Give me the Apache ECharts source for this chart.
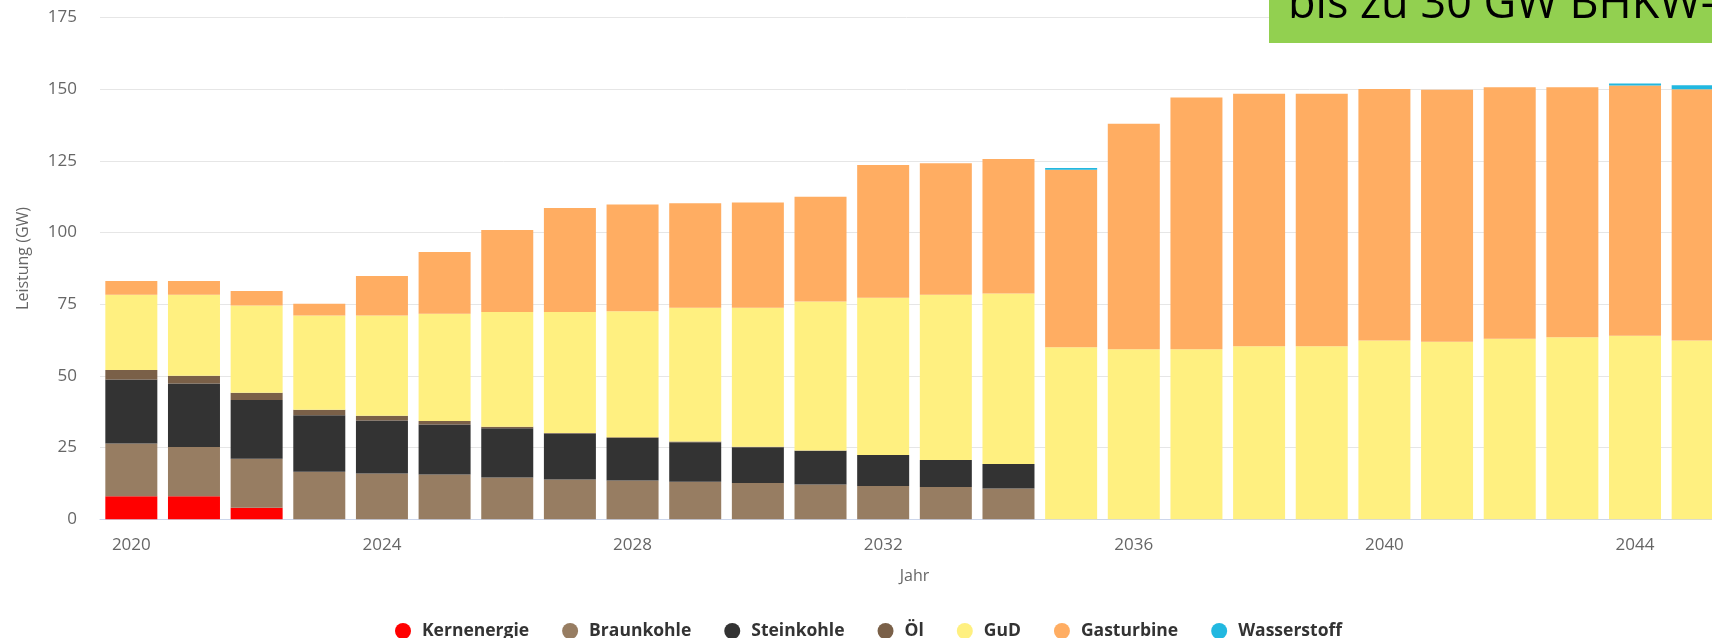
<!DOCTYPE html>
<html>
<head>
<meta charset="utf-8">
<script src="https://cdn.jsdelivr.net/npm/echarts@6/dist/echarts.min.js"></script>
<style>html,body{margin:0;padding:0;background:#fff}#chart{width:1712px;height:638px}</style>
</head>
<body>
<div id="chart"></div>
<script>
var years = ['2020','2021','2022','2023','2024','2025','2026','2027','2028','2029','2030','2031','2032','2033','2034','2035','2036','2037','2038','2039','2040','2041','2042','2043','2044','2045'];
var kernenergie = [8.0, 8.0, 4.0, 0, 0, 0, 0, 0, 0, 0, 0, 0, 0, 0, 0, 0, 0, 0, 0, 0, 0, 0, 0, 0, 0, 0];
var braunkohle = [18.4, 17.2, 17.1, 16.6, 16.0, 15.6, 14.6, 13.9, 13.5, 13.1, 12.7, 12.1, 11.6, 11.3, 10.7, 0, 0, 0, 0, 0, 0, 0, 0, 0, 0, 0];
var steinkohle = [22.4, 22.2, 20.5, 19.7, 18.5, 17.5, 17.2, 16.0, 14.9, 13.8, 12.4, 11.8, 10.8, 9.4, 8.6, 0, 0, 0, 0, 0, 0, 0, 0, 0, 0, 0];
var oel = [3.3, 2.7, 2.5, 1.9, 1.6, 1.2, 0.5, 0.2, 0.2, 0.2, 0.2, 0.1, 0, 0, 0, 0, 0, 0, 0, 0, 0, 0, 0, 0, 0, 0];
var gud = [26.2, 28.2, 30.5, 32.9, 35.0, 37.4, 40.0, 42.2, 44.0, 46.7, 48.5, 52.0, 54.9, 57.6, 59.5, 60.0, 59.3, 59.3, 60.4, 60.4, 62.4, 61.9, 63.0, 63.5, 64.0, 62.4];
var gasturbine = [4.8, 4.8, 5.0, 4.1, 13.8, 21.5, 28.6, 36.3, 37.2, 36.4, 36.7, 36.5, 46.3, 45.9, 46.9, 61.9, 78.7, 87.8, 88.0, 88.0, 87.7, 87.9, 87.7, 87.2, 87.3, 87.6];
var wasserstoff = [0, 0, 0, 0, 0, 0, 0, 0, 0, 0, 0, 0, 0, 0, 0, 0.6, 0, 0, 0, 0, 0, 0, 0, 0, 0.7, 1.4];
var yTicks = {min: 0, max: 175, interval: 25};

var seriesDefs = [
  ['Kernenergie', kernenergie, '#ff0000'],
  ['Braunkohle', braunkohle, '#977d62'],
  ['Steinkohle', steinkohle, '#333333'],
  ['Öl', oel, '#7a6048'],
  ['GuD', gud, '#fff080'],
  ['Gasturbine', gasturbine, '#ffad62'],
  ['Wasserstoff', wasserstoff, '#22b8e0']
];

var chart = echarts.init(document.getElementById('chart'), null, {renderer: 'canvas'});
var font = '"Open Sans", "DejaVu Sans", sans-serif';
chart.setOption({
  animation: false,
  textStyle: {fontFamily: font},
  grid: {left: 100, right: -17, top: 17.6, bottom: 118.7, outerBoundsMode: 'none', containLabel: false},
  legend: {
    left: 390, top: 617,
    icon: 'circle', itemWidth: 16, itemHeight: 16, itemGap: 33,
    textStyle: {fontFamily: font, fontSize: 17.5, fontWeight: 'bold', color: '#333333', padding: [0, 0, 0, 6]},
    data: seriesDefs.map(function (s) { return s[0]; })
  },
  xAxis: {
    type: 'category', data: years,
    name: 'Jahr', nameLocation: 'middle', nameGap: 49,
    nameTextStyle: {fontFamily: font, fontSize: 16, color: '#666666'},
    axisLine: {lineStyle: {color: '#ccd6eb'}},
    axisTick: {show: false},
    axisLabel: {interval: 3, margin: 17, fontFamily: font, fontSize: 17, color: '#666666'}
  },
  yAxis: {
    type: 'value', min: yTicks.min, max: yTicks.max, interval: yTicks.interval,
    name: 'Leistung (GW)', nameLocation: 'middle', nameGap: 69,
    nameTextStyle: {fontFamily: font, fontSize: 16, color: '#666666', padding: [0, 0, 0, 20]},
    axisLine: {show: false}, axisTick: {show: false},
    splitLine: {lineStyle: {color: '#e6e6e6'}},
    axisLabel: {margin: 23, fontFamily: font, fontSize: 17, color: '#666666'}
  },
  series: seriesDefs.map(function (s) {
    return {name: s[0], type: 'bar', stack: 'total', data: s[1], barCategoryGap: '17%',
      itemStyle: {color: s[2]}};
  }),
  graphic: [
    {type: 'rect', left: 1269, top: 0, shape: {width: 443, height: 43}, style: {fill: '#92d050'}, z: 100},
    {type: 'text', x: 1288, y: -17, style: {text: 'bis zu 30 GW BHKW-', fontFamily: font, fontSize: 45, fill: '#000000', align: 'left', verticalAlign: 'top'}, z: 101}
  ]
});
</script>
</body>
</html>
